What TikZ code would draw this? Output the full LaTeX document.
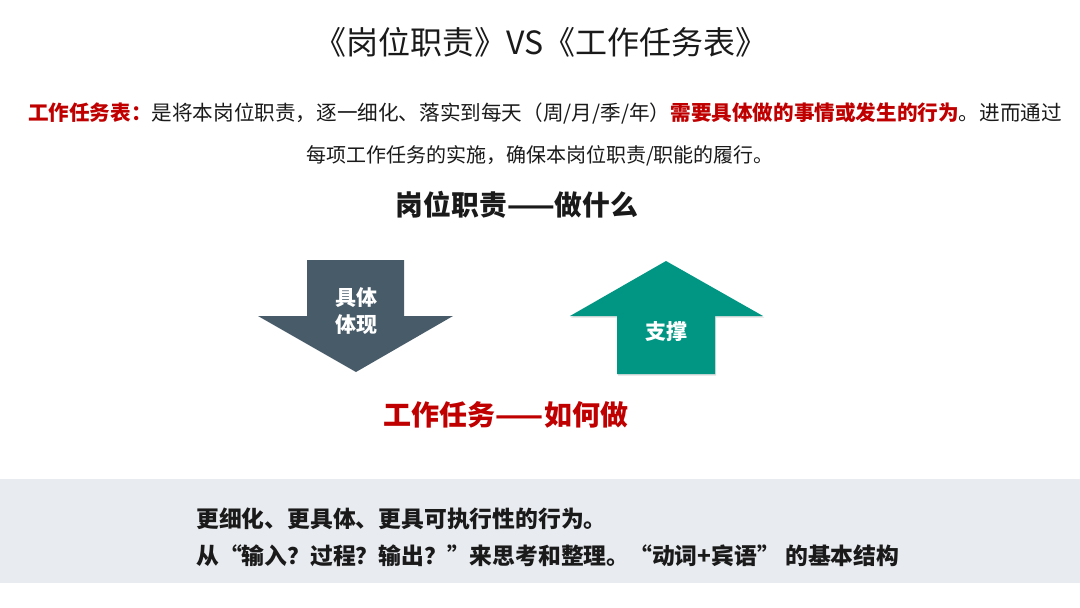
\documentclass[tikz,border=0pt]{standalone}
\usepackage{fontspec}
\setmainfont{Noto Sans CJK SC}
\usetikzlibrary{shadows}
\definecolor{myred}{HTML}{C00000}
\definecolor{bandgray}{HTML}{E8EBEF}
\definecolor{slate}{HTML}{485B69}
\definecolor{teal2}{HTML}{009683}
\definecolor{txt}{HTML}{1A1A1A}
\begin{document}
\begin{tikzpicture}[x=1pt,y=-1pt,
  txtnode/.style={inner sep=0pt, text=txt},
  arrowlabel/.style={inner sep=0pt, text=white, font=\fontsize{21}{27}\selectfont\bfseries, align=center}]
\useasboundingbox (0,0) rectangle (1080,608);
\fill[white] (0,0) rectangle (1080,608);
\fill[bandgray] (0,479) rectangle (1080,583);

% title
\node[txtnode, font=\fontsize{32}{36}\selectfont] (title) at (541,42) {《岗位职责》VS《工作任务表》};

% description
\node[txtnode, anchor=west, font=\fontsize{20.6}{24}\selectfont] (desc1) at (28,113)
  {{\color{myred}\bfseries 工作任务表：}是将本岗位职责，逐一细化、落实到每天（周/月/季/年）{\color{myred}\bfseries 需要具体做的事情或发生的行为}。进而通过};
\node[txtnode, font=\fontsize{20}{24}\selectfont] (desc2) at (540,156)
  {每项工作任务的实施，确保本岗位职责/职能的履行。};

% headings
\node[txtnode, font=\fontsize{27.8}{30}\selectfont\bfseries] (duty) at (517,205) {岗位职责——做什么};
\node[txtnode, text=myred, font=\fontsize{28}{30}\selectfont\bfseries] (task) at (506,415) {工作任务——如何做};

% down arrow
\fill[slate] (307,260) -- (404,260) -- (404,316) -- (453,316) -- (356,372) -- (258,316) -- (307,316) -- cycle;
\node[arrowlabel] (concrete) at (356,311) {具体\\体现};

% up arrow
\fill[teal2, drop shadow={opacity=0.25, shadow xshift=1.2pt, shadow yshift=-1.5pt}]
  (666,261) -- (763,316) -- (715,316) -- (715,374) -- (617,374) -- (617,316) -- (570,316) -- cycle;
\node[arrowlabel] (support) at (666,332) {支撑};

% band text
\node[txtnode, anchor=west, font=\fontsize{22.8}{26}\selectfont\bfseries] (band1) at (196,519)
  {更细化、更具体、更具可执行性的行为。};
\node[txtnode, anchor=west, font=\fontsize{22.8}{26}\selectfont\bfseries] (band2) at (196,556)
  {从“输入？过程？输出？”来思考和整理。“动词+宾语” 的基本结构};
\end{tikzpicture}
\end{document}
